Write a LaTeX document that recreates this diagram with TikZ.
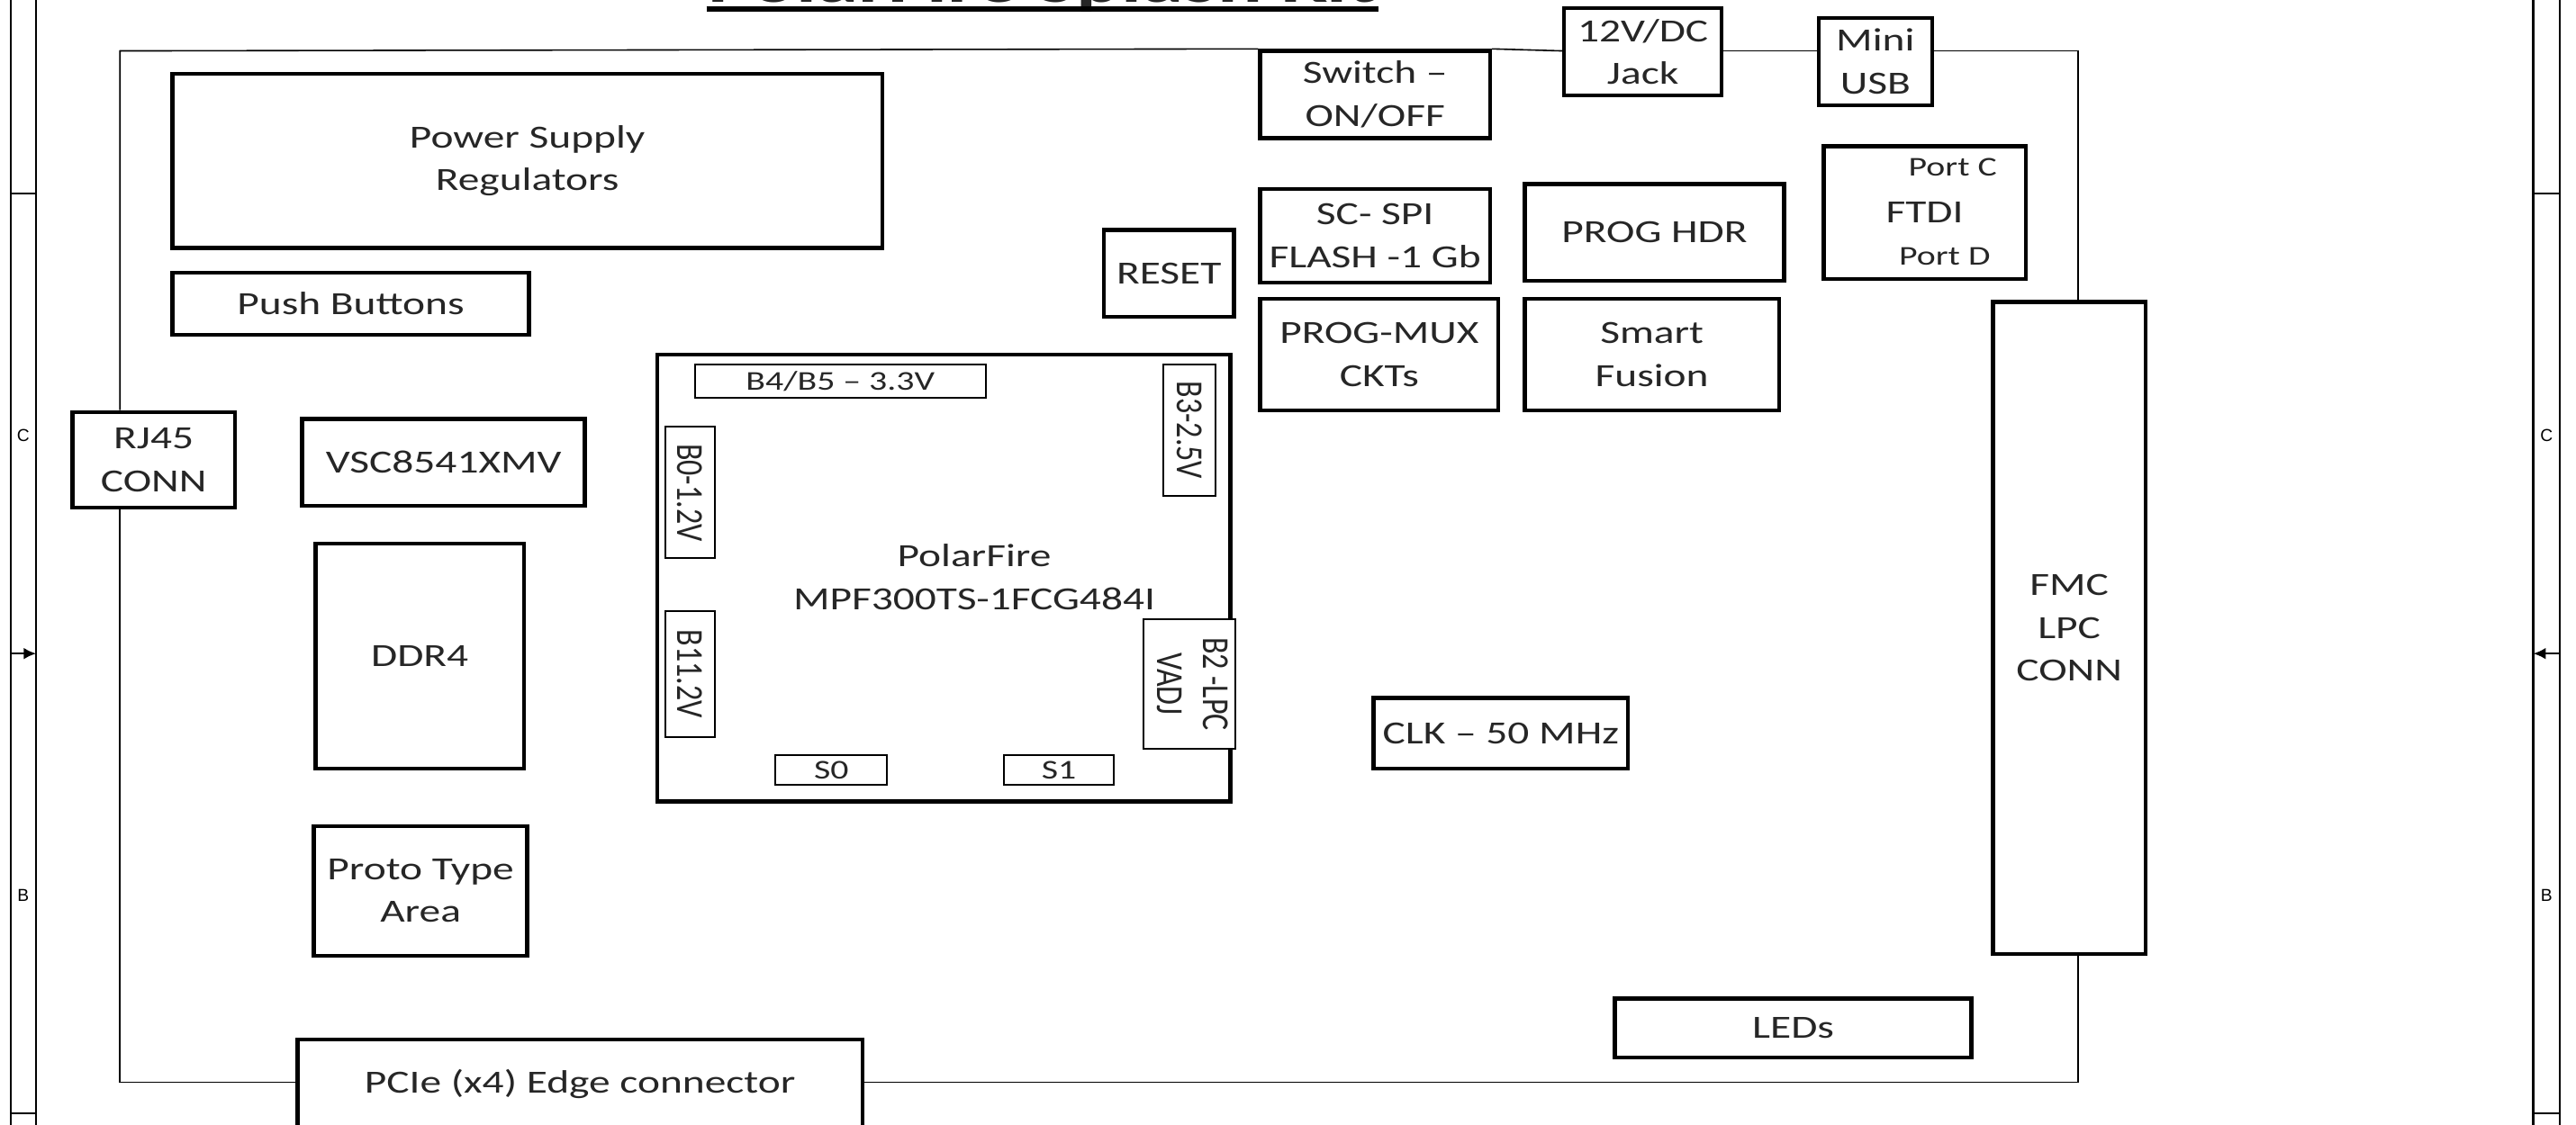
\documentclass[tikz,border=0pt]{standalone}
\usepackage{fontspec}
\usepackage{graphicx}
\setmainfont[FakeStretch=1.32]{Carlito}
\newfontfamily\rotfont{Carlito}
\newfontfamily\rimfont{Liberation Sans}
\usetikzlibrary{arrows.meta}

\newcommand\rotlbl[1]{\scalebox{1}[1.25]{#1}}

\begin{document}
\begin{tikzpicture}[
		x=0.02cm, y=-0.02cm,
		area/.style args={#1/#2/#3/#4}{at={({(#1+#3)/2},{(#2+#4)/2})}, minimum width={(#3-#1)*0.02cm}, minimum height={(#4-#2)*0.02cm}},
		blk/.style={draw, line width=1.4pt, fill=white, inner sep=0pt, align=center, text=black!85, font=\fontsize{11.2}{14.8}\selectfont},
		bank/.style={draw, line width=0.6pt, fill=white, inner sep=0pt, align=center, text=black!85, font=\fontsize{9.4}{11}\selectfont},
		vbank/.style={bank, rotate=-90, font=\rotfont\fontsize{10.6}{12.7}\selectfont},
		board/.style={line width=0.5pt},
		rim/.style={line width=0.7pt},
		rimlbl/.style={font=\rimfont\fontsize{6}{7}\selectfont, inner sep=0pt},
		rimarrow/.style={rim, -{Latex[length=0.15cm, width=0.14cm]}}
	]
	\useasboundingbox (0,0) rectangle (1568,685);
	\clip (0,0) rectangle (1568,685);

	% sheet frame
	\foreach \xa/\xb in {6.5/22, 1542/1558} {
		\draw[rim] (\xa,-5) -- (\xa,690) (\xb,-5) -- (\xb,690);
		\draw[rim] (\xa,118) -- (\xb,118) (\xa,678) -- (\xb,678);
	}
	\node[rimlbl] (zcl) at (14.2,265) {C};
	\node[rimlbl] (zbl) at (14.2,545) {B};
	\node[rimlbl] (zcr) at (1550,265) {C};
	\node[rimlbl] (zbr) at (1550,545) {B};
	\draw[rimarrow] (6.5,398) -- (22,398);
	\draw[rimarrow] (1558,398) -- (1542,398);

	% title
	\node[anchor=base, inner sep=0pt, text=black!85, font=\fontsize{22}{26}\selectfont\bfseries] (title) at (634.5,1.5) {PolarFire Splash Kit};
	\draw[line width=0.06cm] (430,5.5) -- (839,5.5);

	% board
	\coordinate (tl) at (73,31);
	\coordinate (tr) at (1265,31);
	\coordinate (br) at (1265,659);
	\coordinate (bl) at (73,659);

	\node[blk, area=105/45/537/151] (psu) {Power Supply\\Regulators};
	\node[blk, area=105/166/322/204] (push) {Push Buttons};
	\node[blk, area=44/251/143/309] (rj45) {RJ45\\CONN};
	\node[blk, area=184/255/356/308] (phy) {VSC8541XMV};
	\node[blk, area=192/331/319/468] (ddr) {DDR4};
	\node[blk, area=191/503/321/582] (proto) {Proto Type\\Area};
	\node[blk, area=181/633/525/687] (pcie) {PCIe (x4) Edge connector};

	\node[blk, area=400/216/749/488] (fpga) {};
	\node[blk, draw=none, fill=none] (fpgalbl) at (593,351.5) {PolarFire\\MPF300TS-1FCG484I};
	\node[bank, area=423/222/600/242] (b45) {B4/B5 -- 3.3V};
	\node[vbank, minimum width=1.6cm, minimum height=0.64cm] (b3) at (724,262) {\rotlbl{B3-2.5V}};
	\node[vbank, minimum width=1.6cm, minimum height=0.6cm] (b0) at (420,300) {\rotlbl{B0-1.2V}};
	\node[vbank, minimum width=1.54cm, minimum height=0.6cm] (b1) at (420,410.5) {\rotlbl{B11.2V}};
	\node[vbank, minimum width=1.58cm, minimum height=0.96cm] (b2) at (724,416.5) {\rotlbl{\begin{tabular}{@{}c@{}}B2 -LPC\\VADJ\end{tabular}}};
	\node[bank, area=472/460/540/478] (s0) {S0};
	\node[bank, area=611/460/678/478] (s1) {S1};

	\node[blk, area=767/31/907/84] (sw) {Switch --\\ON/OFF};
	\node[blk, area=952/5/1048/58] (jack) {12V/DC\\Jack};
	\node[blk, area=1107/11/1176/64] (usb) {Mini\\USB};
	\node[blk, area=672/140/751/193] (rst) {RESET};
	\node[blk, area=767/115/907/172] (spi) {SC- SPI\\FLASH -1 Gb};
	\node[blk, area=928/112/1086/171] (hdr) {PROG HDR};
	\node[blk, area=767/182/912/250] (mux) {PROG-MUX\\CKTs};
	\node[blk, area=928/182/1083/250] (sf) {Smart\\Fusion};
	\node[blk, area=1110/89/1233/170] (ftdi) {FTDI};
	\node[bank, draw=none, fill=none, anchor=east] (portc) at (1216,102) {Port C};
	\node[bank, draw=none, fill=none, anchor=east] (portd) at (1212,156) {Port D};
	\node[blk, area=1213/184/1306/581] (fmc) {FMC\\LPC\\CONN};
	\node[blk, area=836/425/991/468] (clk) {CLK -- 50 MHz};
	\node[blk, area=983/608/1200/644] (leds) {LEDs};

	\draw[board] (sw.north west) -- (tl) -- (rj45.north -| tl);
	\draw[board] (rj45.south -| tl) -- (bl) -- (pcie.west |- bl);
	\draw[board] (pcie.east |- bl) -- (br) -- (fmc.south -| br);
	\draw[board] (fmc.north -| tr) -- (tr) -- (usb.east |- tr);
	\draw[board] (usb.west |- tr) -- (jack.east |- tr);
	\draw[board] (jack.west |- tr) -- (sw.north east);
\end{tikzpicture}
\end{document}
